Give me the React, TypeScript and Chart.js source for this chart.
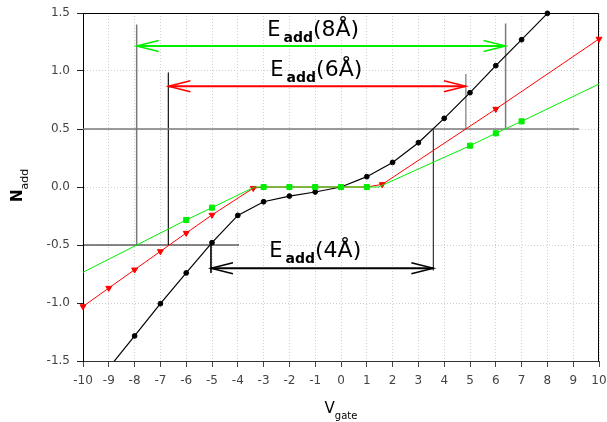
import { useEffect, useRef } from "react";
import { Chart, registerables } from "chart.js";
Chart.register(...registerables);

// ---------------- data ----------------
const xTicks = [-10, -9, -8, -7, -6, -5, -4, -3, -2, -1, 0, 1, 2, 3, 4, 5, 6, 7, 8, 9, 10];
const yTicks = [-1.5, -1.0, -0.5, 0.0, 0.5, 1.0, 1.5];

// 4 Å (black, circles)
const blackX = [-9, -8, -7, -6, -5, -4, -3, -2, -1, 0, 1, 2, 3, 4, 5, 6, 7, 8];
const blackY = [-1.56, -1.284, -1.006, -0.741, -0.48, -0.245, -0.127, -0.078, -0.043, 0, 0.089, 0.212, 0.382, 0.592, 0.813, 1.046, 1.27, 1.497];
const blackMarked = [0, 1, 1, 1, 1, 1, 1, 1, 1, 1, 1, 1, 1, 1, 1, 1, 1, 1];

// 6 Å (red, down triangles)
const redX = [-10, -9, -8, -7, -6, -5, -3.4, -3, -2, -1, 0, 1, 1.6, 6, 10];
const redY = [-1.03, -0.871, -0.713, -0.555, -0.397, -0.241, -0.01, 0, 0, 0, 0, 0, 0.023, 0.672, 1.276];
const redMarked = [1, 1, 1, 1, 1, 1, 1, 0, 0, 0, 0, 0, 1, 1, 1];

// 8 Å (green, squares)
const greenX = [-10, -6, -5, -3.35, -3, -2, -1, 0, 1, 1.45, 5, 6, 7, 10];
const greenY = [-0.735, -0.284, -0.178, 0, 0, 0, 0, 0, 0, 0, 0.356, 0.463, 0.566, 0.888];
const greenMarked = [0, 1, 1, 0, 1, 1, 1, 1, 1, 0, 1, 1, 1, 0];

// guide lines [x1, y1, x2, y2]
const guideX1 = [-10, -10, -7.92, -6.69, -5.04, 3.58, 4.84, 6.38];
const guideY1 = [0.5, -0.5, 1.4, 0.985, -0.48, 0.5, 0.975, 1.41];
const guideX2 = [9.22, -3.95, -7.92, -6.69, -5.04, 3.58, 4.84, 6.38];
const guideY2 = [0.5, -0.5, -0.5, -0.5, -0.74, -0.72, 0.5, 0.5];
const guideColor = ["#7a7a7a", "#111111", "#7a7a7a", "#222222", "#111111", "#333333", "#7a7a7a", "#7a7a7a"];
const guideWidth = [1.5, 1, 1.5, 1, 1, 1.2, 1.2, 1.5];

// double arrows (E_add)
const arrowLabels = ["8Å", "6Å", "4Å"];
const arrowY = [1.216, 0.868, -0.7];
const arrowFrom = [-7.92, -6.69, -5.04];
const arrowTo = [6.38, 4.84, 3.58];
const arrowColor = ["#00ee00", "#ff0000", "#000000"];
const labelX = [-2.86, -2.74, -2.78];
const labelY = [1.3, 0.957, -0.6];

const FONT = "'DejaVu Sans', sans-serif";

function pts(xs: number[], ys: number[]) {
  return xs.map((x, i) => ({ x, y: ys[i] }));
}

const overlay = {
  id: "overlay",
  beforeDatasetsDraw(chart: any) {
    const { ctx, chartArea: a } = chart;
    ctx.save();
    ctx.strokeStyle = "#000";
    ctx.lineWidth = 1;
    ctx.beginPath();
    ctx.moveTo(a.left, a.top + 0.5);
    ctx.lineTo(a.right - 0.5, a.top + 0.5);
    ctx.lineTo(a.right - 0.5, a.bottom);
    ctx.stroke();
    ctx.restore();
  },
  afterDatasetsDraw(chart: any) {
    const { ctx } = chart;
    const xs = chart.scales.x;
    const ys = chart.scales.y;
    ctx.save();
    // arrowheads
    for (let i = 0; i < arrowY.length; i++) {
      const py = ys.getPixelForValue(arrowY[i]);
      const x1 = xs.getPixelForValue(arrowFrom[i]);
      const x2 = xs.getPixelForValue(arrowTo[i]);
      ctx.strokeStyle = arrowColor[i];
      ctx.lineWidth = 1.5;
      ctx.beginPath();
      ctx.moveTo(x1 + 22, py - 5.5);
      ctx.lineTo(x1, py);
      ctx.lineTo(x1 + 22, py + 5.5);
      ctx.moveTo(x2 - 22, py - 5.5);
      ctx.lineTo(x2, py);
      ctx.lineTo(x2 - 22, py + 5.5);
      ctx.stroke();
    }
    // labels
    ctx.fillStyle = "#000";
    ctx.textBaseline = "alphabetic";
    ctx.textAlign = "left";
    for (let i = 0; i < arrowLabels.length; i++) {
      let px = xs.getPixelForValue(labelX[i]);
      const py = ys.getPixelForValue(labelY[i]);
      ctx.font = `21px ${FONT}`;
      ctx.fillText("E", px, py);
      px += ctx.measureText("E").width + 3;
      ctx.font = `bold 14px ${FONT}`;
      ctx.fillText("add", px, py + 6);
      px += ctx.measureText("add").width;
      ctx.font = `22px ${FONT}`;
      ctx.fillText("(" + arrowLabels[i] + ")", px, py);
    }
    ctx.restore();
  },
  afterDraw(chart: any) {
    const { ctx } = chart;
    const xs = chart.scales.x;
    ctx.save();
    ctx.fillStyle = "#000";
    ctx.textBaseline = "alphabetic";
    ctx.textAlign = "left";
    // x title
    const cx = xs.getPixelForValue(0);
    ctx.font = `15px ${FONT}`;
    const wV = ctx.measureText("V").width;
    ctx.font = `10px ${FONT}`;
    const wG = ctx.measureText("gate").width;
    const px = cx - (wV + wG) / 2;
    ctx.font = `15px ${FONT}`;
    ctx.fillText("V", px, 413);
    ctx.font = `10px ${FONT}`;
    ctx.fillText("gate", px + wV, 419);
    // y title
    ctx.translate(22, 202);
    ctx.rotate(-Math.PI / 2);
    ctx.font = `bold 15px ${FONT}`;
    ctx.fillText("N", 0, 0);
    const wN = ctx.measureText("N").width;
    ctx.font = `11px ${FONT}`;
    ctx.fillText("add", wN, 6);
    ctx.restore();
  },
};

export default function App() {
  const ref = useRef<HTMLCanvasElement>(null);
  useEffect(() => {
    if (!ref.current) return;
    const clip = { left: 5, top: 5, right: 5, bottom: 0 };
    const guideSets = guideX1.map((x1, i) => ({
      data: [
        { x: x1, y: guideY1[i] },
        { x: guideX2[i], y: guideY2[i] },
      ],
      showLine: true,
      borderColor: guideColor[i],
      borderWidth: guideWidth[i],
      pointRadius: 0,
      order: 10,
      clip,
    }));
    const arrowSets = arrowY.map((y, i) => ({
      data: [
        { x: arrowFrom[i], y },
        { x: arrowTo[i], y },
      ],
      showLine: true,
      borderColor: arrowColor[i],
      borderWidth: 2,
      pointRadius: 0,
      order: 9,
      clip,
    }));
    const chart = new Chart(ref.current, {
      type: "scatter",
      data: {
        datasets: [
          {
            label: "8Å",
            data: pts(greenX, greenY),
            showLine: true,
            borderColor: "#00ee00",
            backgroundColor: "#00ee00",
            borderWidth: 1,
            pointStyle: "rect",
            pointRadius: greenMarked.map((m) => (m ? 3.6 : 0)),
            pointBorderWidth: 1,
            order: 0,
            clip,
          },
          {
            label: "6Å",
            data: pts(redX, redY),
            showLine: true,
            borderColor: "#ff0000",
            backgroundColor: "#ff0000",
            borderWidth: 1,
            pointStyle: "triangle",
            pointRotation: 180,
            pointRadius: redMarked.map((m) => (m ? 3.4 : 0)),
            pointBorderWidth: 1,
            order: 1,
            clip,
          },
          {
            label: "4Å",
            data: pts(blackX, blackY),
            showLine: true,
            borderColor: "#000000",
            backgroundColor: "#000000",
            borderWidth: 1.2,
            pointStyle: "circle",
            pointRadius: blackMarked.map((m) => (m ? 2.4 : 0)),
            pointBorderWidth: 1,
            order: 2,
            clip,
          },
          ...arrowSets,
          ...guideSets,
        ] as any,
      },
      options: {
        animation: false,
        responsive: false,
        maintainAspectRatio: false,
        layout: { padding: { left: 0, top: 13, right: 8, bottom: 0 } },
        plugins: { legend: { display: false }, tooltip: { enabled: false } },
        scales: {
          x: {
            type: "linear",
            min: xTicks[0],
            max: xTicks[xTicks.length - 1],
            afterBuildTicks: (s: any) => {
              s.ticks = xTicks.map((v) => ({ value: v }));
            },
            afterFit: (s: any) => {
              s.height = 61;
              s.paddingLeft = 0;
              s.paddingRight = 0;
            },
            ticks: {
              autoSkip: false,
              maxRotation: 0,
              padding: 7,
              color: "#444",
              font: { family: FONT, size: 12 },
              callback: (v: any) => String(v),
            },
            grid: {
              color: "#cfcfcf",
              lineWidth: 1,
              tickLength: 6,
              tickColor: "#444",
              tickWidth: 1,
            },
            border: { display: true, color: "#333", width: 1, dash: [1, 2] },
          },
          y: {
            type: "linear",
            min: yTicks[0],
            max: yTicks[yTicks.length - 1],
            afterBuildTicks: (s: any) => {
              s.ticks = yTicks.map((v) => ({ value: v }));
            },
            afterFit: (s: any) => {
              s.width = 83;
              s.paddingTop = 0;
              s.paddingBottom = 0;
            },
            ticks: {
              padding: 7,
              color: "#444",
              font: { family: FONT, size: 12 },
              callback: (v: any) => Number(v).toFixed(1),
            },
            grid: {
              color: "#cfcfcf",
              lineWidth: 1,
              tickLength: 6,
              tickColor: "#222",
              tickWidth: 1,
            },
            border: { display: true, color: "#000", width: 1, dash: [1, 2] },
          },
        },
      },
      plugins: [overlay],
    });
    return () => chart.destroy();
  }, []);
  return (
    <div style={{ position: "fixed", left: 0, top: 0, width: 607, height: 422, background: "#fff" }}>
      <canvas ref={ref} width={607} height={422} style={{ width: 607, height: 422 }} />
    </div>
  );
}
